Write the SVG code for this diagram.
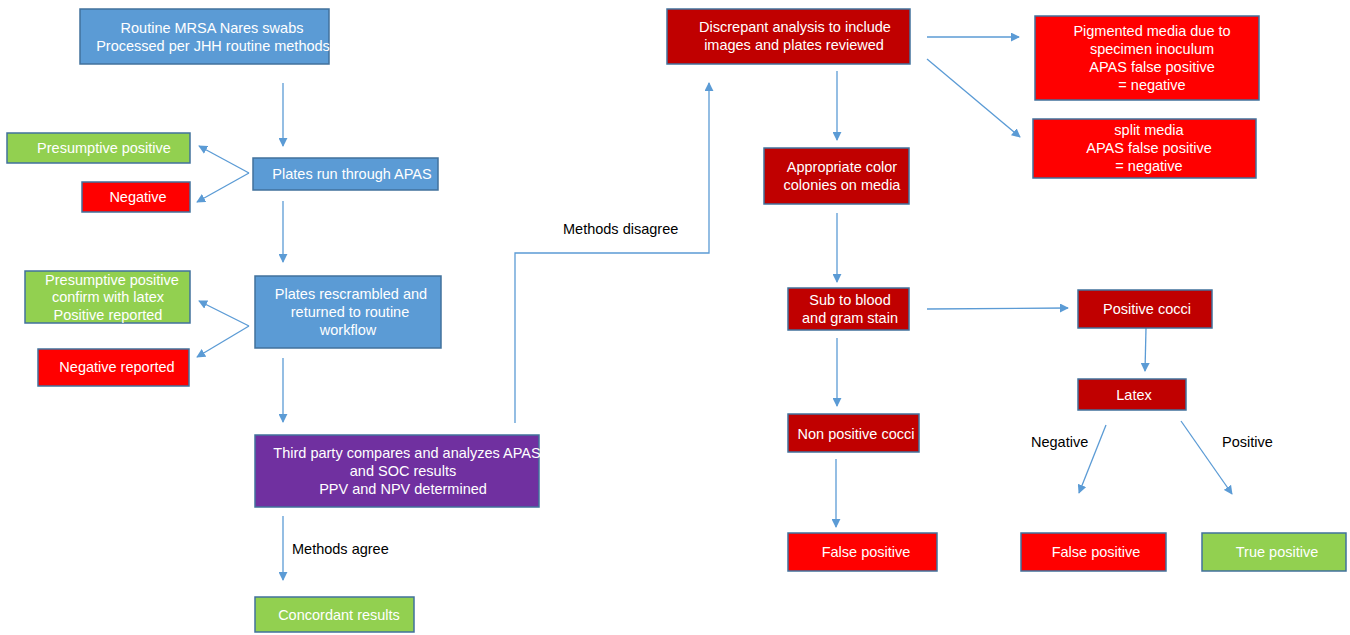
<svg xmlns="http://www.w3.org/2000/svg" width="1350" height="635" viewBox="0 0 1350 635">
<defs>
<marker id="ah" viewBox="0 0 10 10" refX="9" refY="5" markerWidth="9" markerHeight="9" markerUnits="userSpaceOnUse" orient="auto">
<path d="M0,0 L10,5 L0,10 z" fill="#5B9BD5"/>
</marker>
<style>
.b{stroke:#41719C;stroke-width:1.5}
.blue{fill:#5B9BD5}
.green{fill:#92D050}
.red{fill:#FF0000}
.dred{fill:#C00000}
.purple{fill:#7030A0}
text{font-family:"Liberation Sans",Arial,sans-serif;font-size:14.5px}
.w{fill:#FFFFFF;text-anchor:middle}
.k{fill:#000000}
.c{fill:none;stroke:#5B9BD5;stroke-width:1.3;marker-end:url(#ah)}
</style>
</defs>
<g id="connectors">
<path class="c" d="M283,83 L283,146"/>
<path class="c" d="M249,173 L199,146"/>
<path class="c" d="M249,173 L197,202"/>
<path class="c" d="M283,201 L283,262"/>
<path class="c" d="M249,326 L199,301"/>
<path class="c" d="M249,326 L197,357"/>
<path class="c" d="M283,358 L283,422"/>
<path class="c" d="M283,516 L283,580"/>
<path class="c" d="M515,423 L515,253 L709,253 L709,83"/>
<path class="c" d="M927,37 L1019,37"/>
<path class="c" d="M927,59 L1020,137"/>
<path class="c" d="M837,71 L837,140"/>
<path class="c" d="M837,213 L837,282"/>
<path class="c" d="M927,309 L1068,308"/>
<path class="c" d="M1146,328 L1145,371"/>
<path class="c" d="M837,338 L837,406"/>
<path class="c" d="M836,459 L836,527"/>
<path class="c" d="M1106,425 L1079,493"/>
<path class="c" d="M1181,421 L1232,494"/>
<text class="k" x="292" y="554">Methods agree</text>
<text class="k" x="563" y="234">Methods disagree</text>
<text class="k" x="1031" y="447">Negative</text>
<text class="k" x="1222" y="447">Positive</text>
</g>
<g id="n_routine"><rect class="b blue" x="80" y="9" width="249" height="55"/><text class="w" x="212" y="33">Routine MRSA Nares swabs</text><text class="w" x="213" y="51">Processed per JHH routine methods</text></g>
<g id="n_presumptive"><rect class="b green" x="7" y="133" width="183" height="30"/><text class="w" x="104" y="153">Presumptive positive</text></g>
<g id="n_negative"><rect class="b red" x="82" y="182" width="108" height="30"/><text class="w" x="138" y="202">Negative</text></g>
<g id="n_apas"><rect class="b blue" x="253" y="158" width="185" height="32"/><text class="w" x="352" y="179">Plates run through APAS</text></g>
<g id="n_confirm"><rect class="b green" x="25" y="271" width="165" height="52"/><text class="w" x="112" y="285">Presumptive positive</text><text class="w" x="108" y="302">confirm with latex</text><text class="w" x="108" y="320">Positive reported</text></g>
<g id="n_negrep"><rect class="b red" x="38" y="349" width="151" height="37"/><text class="w" x="117" y="372">Negative reported</text></g>
<g id="n_rescrambled"><rect class="b blue" x="255" y="276" width="186" height="72"/><text class="w" x="351" y="299">Plates rescrambled and</text><text class="w" x="350" y="317">returned to routine</text><text class="w" x="348" y="335">workflow</text></g>
<g id="n_third"><rect class="b purple" x="255" y="435" width="284" height="72"/><text class="w" x="407" y="458">Third party compares and analyzes APAS</text><text class="w" x="403" y="476">and SOC results</text><text class="w" x="403" y="494">PPV and NPV determined</text></g>
<g id="n_concordant"><rect class="b green" x="255" y="597" width="159" height="35"/><text class="w" x="339" y="620">Concordant results</text></g>
<g id="n_discrepant"><rect class="b dred" x="667" y="9" width="243" height="55"/><text class="w" x="795" y="32">Discrepant analysis to include</text><text class="w" x="794" y="50">images and plates reviewed</text></g>
<g id="n_pigmented"><rect class="b red" x="1035" y="16" width="224" height="84"/><text class="w" x="1152" y="36">Pigmented media due to</text><text class="w" x="1152" y="54">specimen inoculum</text><text class="w" x="1152" y="72">APAS false positive</text><text class="w" x="1152" y="90">= negative</text></g>
<g id="n_split"><rect class="b red" x="1033" y="119" width="223" height="59"/><text class="w" x="1149" y="135">split media</text><text class="w" x="1149" y="153">APAS false positive</text><text class="w" x="1149" y="171">= negative</text></g>
<g id="n_appropriate"><rect class="b dred" x="764" y="148" width="145" height="56"/><text class="w" x="842" y="172">Appropriate color</text><text class="w" x="842" y="190">colonies on media</text></g>
<g id="n_sub"><rect class="b dred" x="788" y="288" width="121" height="42"/><text class="w" x="850" y="305">Sub to blood</text><text class="w" x="850" y="323">and gram stain</text></g>
<g id="n_poscocci"><rect class="b dred" x="1078" y="290" width="134" height="38"/><text class="w" x="1147" y="314">Positive cocci</text></g>
<g id="n_latex"><rect class="b dred" x="1078" y="379" width="108" height="31"/><text class="w" x="1134" y="400">Latex</text></g>
<g id="n_nonpos"><rect class="b dred" x="788" y="414" width="131" height="38"/><text class="w" x="856" y="439">Non positive cocci</text></g>
<g id="n_fp1"><rect class="b red" x="788" y="533" width="149" height="38"/><text class="w" x="866" y="557">False positive</text></g>
<g id="n_fp2"><rect class="b red" x="1021" y="533" width="145" height="38"/><text class="w" x="1096" y="557">False positive</text></g>
<g id="n_tp"><rect class="b green" x="1202" y="533" width="144" height="38"/><text class="w" x="1277" y="557">True positive</text></g>
</svg>
